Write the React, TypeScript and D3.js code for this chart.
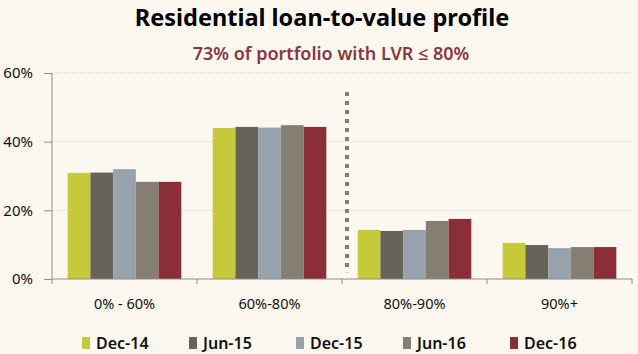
import * as d3 from "d3";
import { useEffect, useRef } from "react";

const categories = ["0% - 60%", "60%-80%", "80%-90%", "90%+"];
const periods = ["Dec-14", "Jun-15", "Dec-15", "Jun-16", "Dec-16"];
const colors = ["#c6c93a", "#686358", "#97a2ad", "#867e73", "#8a2f39"];
const dec14 = [30.9, 44.0, 14.3, 10.5];
const jun15 = [31.0, 44.3, 14.0, 9.9];
const dec15 = [32.0, 44.1, 14.3, 9.0];
const jun16 = [28.3, 44.8, 16.9, 9.3];
const dec16 = [28.3, 44.3, 17.5, 9.3];
const yTicks = [0, 20, 40, 60];

const series = [dec14, jun15, dec15, jun16, dec16];
const FONT = "'Noto Sans', 'Open Sans', sans-serif";

export default function App() {
  const svgRef = useRef(null);

  useEffect(() => {
    const W = 638, H = 354;
    const left = 52, right = 632, top = 73, bottom = 279;
    const svg = d3.select(svgRef.current);
    svg.selectAll("*").remove();

    svg.append("rect").attr("width", W).attr("height", H).attr("fill", "#fcf8f0");

    const x = d3.scaleBand().domain(categories).range([left, right]).paddingInner(0).paddingOuter(0);
    const inner = d3.scaleBand().domain(periods).range([0, x.bandwidth()]).paddingOuter(0.69);
    const y = d3.scaleLinear().domain([0, 60]).range([bottom, top]);

    // grid
    svg.append("g")
      .selectAll("line")
      .data(yTicks.filter((t) => t > 0))
      .enter()
      .append("line")
      .attr("x1", left)
      .attr("x2", right)
      .attr("y1", (d) => y(d))
      .attr("y2", (d) => y(d))
      .attr("stroke", "#d9d6cc")
      .attr("stroke-dasharray", "1,1");

    // bars
    const groups = svg.append("g")
      .selectAll("g")
      .data(categories)
      .enter()
      .append("g")
      .attr("transform", (d) => `translate(${x(d)},0)`);

    groups
      .selectAll("rect")
      .data((d, i) => series.map((s, j) => ({ p: periods[j], v: s[i], c: colors[j] })))
      .enter()
      .append("rect")
      .attr("x", (d) => inner(d.p))
      .attr("width", inner.bandwidth())
      .attr("y", (d) => y(d.v))
      .attr("height", (d) => bottom - y(d.v))
      .attr("fill", (d) => d.c);

    // axes
    const yAxis = svg.append("g").attr("transform", `translate(${left},0)`)
      .call(d3.axisLeft(y).tickValues(yTicks).tickSize(8).tickPadding(11).tickFormat((d) => d + "%"));
    yAxis.selectAll("line, .domain").attr("stroke", "#8c8c8c");
    yAxis.select(".domain").attr("d", `M0,${top}V${bottom}`);
    yAxis.selectAll("text")
      .attr("font-family", FONT).attr("font-size", 15).attr("fill", "#111");

    const xAxis = svg.append("g").attr("transform", `translate(0,${bottom})`)
      .call(d3.axisBottom(x).tickSize(0).tickPadding(20));
    xAxis.select(".domain").attr("stroke", "#8c8c8c").attr("d", `M${left},0H${right}`);
    xAxis.selectAll("text")
      .attr("font-family", FONT).attr("font-size", 14.5).attr("fill", "#111");
    const bounds = categories.map((c) => x(c)).concat([right]);
    xAxis.selectAll(".bound")
      .data(bounds)
      .enter()
      .append("line")
      .attr("x1", (d) => d).attr("x2", (d) => d)
      .attr("y1", 0).attr("y2", 5)
      .attr("stroke", "#8c8c8c");

    // separator at 80%
    const sx = x("80%-90%") + 5;
    svg.append("line")
      .attr("x1", sx).attr("x2", sx)
      .attr("y1", y(54.5)).attr("y2", y(2))
      .attr("stroke", "#7f7f7f").attr("stroke-width", 4)
      .attr("stroke-dasharray", "4,5");

    // titles
    svg.append("text")
      .attr("x", 322).attr("y", 26)
      .attr("text-anchor", "middle")
      .attr("font-family", FONT).attr("font-weight", "bold").attr("font-size", 23.5)
      .attr("fill", "#000")
      .text("Residential loan-to-value profile");
    svg.append("text")
      .attr("x", 331).attr("y", 60)
      .attr("text-anchor", "middle")
      .attr("font-family", FONT).attr("font-weight", 600).attr("font-size", 18)
      .attr("fill", "#8a3640")
      .text("73% of portfolio with LVR ≤ 80%");

    // legend
    const lx = d3.scalePoint().domain(periods).range([82, 510]);
    const leg = svg.append("g")
      .selectAll("g")
      .data(periods)
      .enter()
      .append("g")
      .attr("transform", (d) => `translate(${lx(d)},337)`);
    leg.append("rect")
      .attr("width", 8).attr("height", 12)
      .attr("fill", (d, i) => colors[i]);
    leg.append("text")
      .attr("x", 14).attr("y", 11.5)
      .attr("font-family", FONT).attr("font-weight", 600).attr("font-size", 16)
      .attr("fill", "#111")
      .text((d) => d);
  }, []);

  return (
    <svg ref={svgRef} width={638} height={354} style={{ position: "absolute", left: 0, top: 0 }} />
  );
}
